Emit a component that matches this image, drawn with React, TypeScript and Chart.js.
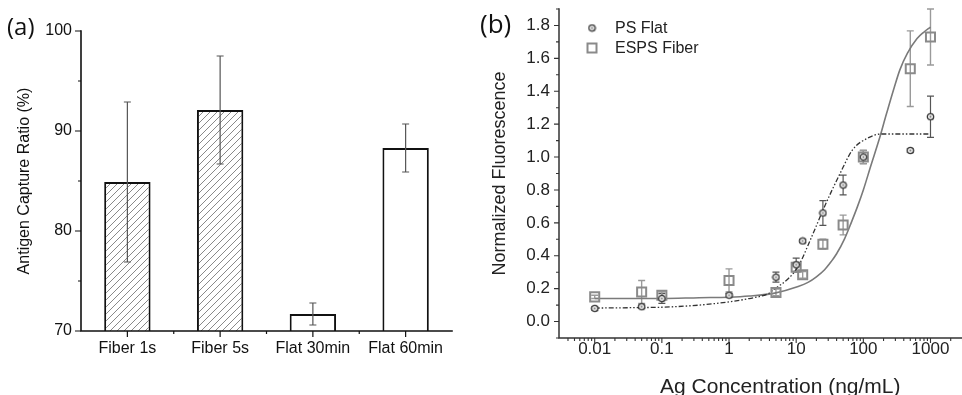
import React, { useEffect, useRef } from "react";
import { Chart, registerables } from "chart.js";

Chart.register(...registerables);

// ---------- Panel (a) data ----------
const barCategories = ["Fiber 1s", "Fiber 5s", "Flat 30min", "Flat 60min"];
const barValues = [84.9, 92.1, 71.7, 88.3];
const barErrors = [8.0, 5.4, 1.1, 2.4];
const barHatched = [true, true, false, false];
const barYMin = 70;
const barYMax = 100;
const barYStep = 5;

// ---------- Panel (b) data ----------
const concentrations = [0.01, 0.05, 0.1, 1, 5, 10, 12.5, 25, 50, 100, 500, 1000];
const psFlatValues = [0.08, 0.09, 0.14, 0.16, 0.27, 0.345, 0.49, 0.66, 0.83, 1.0, 1.04, 1.245];
const psFlatErrors = [0.01, 0.01, 0.03, 0.01, 0.03, 0.04, 0.01, 0.075, 0.06, 0.04, 0.01, 0.125];
const espsValues = [0.15, 0.18, 0.16, 0.25, 0.177, 0.33, 0.284, 0.47, 0.587, 1.0, 1.537, 1.73];
const espsErrors = [0.01, 0.07, 0.02, 0.07, 0.02, 0.03, 0.02, 0.03, 0.06, 0.04, 0.23, 0.17];

const psFitX = [0.01, 0.05, 0.1, 0.36, 1, 2, 3.85, 4.84, 7.6, 10.7, 16.8, 26.5, 45, 69.5, 116, 182, 300, 1000];
const psFitY = [0.082, 0.085, 0.087, 0.1, 0.12, 0.14, 0.17, 0.2, 0.26, 0.335, 0.51, 0.7, 0.9, 1.045, 1.115, 1.14, 1.14, 1.14];

const espsFitX = [0.01, 0.1, 0.36, 1, 2, 4.8, 10.7, 15, 20, 26.5, 33, 40, 52.5, 65, 82, 100, 130, 170, 220, 287, 350, 452, 631, 800, 1000];
const espsFitY = [0.14, 0.14, 0.145, 0.148, 0.155, 0.173, 0.213, 0.238, 0.272, 0.315, 0.363, 0.412, 0.503, 0.594, 0.7, 0.8, 0.95, 1.1, 1.26, 1.42, 1.53, 1.63, 1.72, 1.76, 1.79];

const logXMin = 0.00294;
const logXMax = 11450;
const fluorYMin = -0.1;
const fluorYMax = 1.9;
const fluorYStep = 0.1;

const FONT = '"Liberation Sans", Arial, sans-serif';

function makeHatch(): CanvasPattern | string {
  const c = document.createElement("canvas");
  c.width = 7;
  c.height = 7;
  const g = c.getContext("2d");
  if (!g) return "#ddd";
  g.fillStyle = "#ffffff";
  g.fillRect(0, 0, 7, 7);
  g.strokeStyle = "#7c7c7c";
  g.lineWidth = 0.9;
  g.beginPath();
  g.moveTo(-1, 8);
  g.lineTo(8, -1);
  g.moveTo(-1, 1);
  g.lineTo(1, -1);
  g.moveTo(6, 8);
  g.lineTo(8, 6);
  g.stroke();
  return g.createPattern(c, "repeat") || "#ddd";
}

function makeCircleMarker(): HTMLCanvasElement {
  const c = document.createElement("canvas");
  c.width = 9;
  c.height = 9;
  const g = c.getContext("2d")!;
  g.beginPath();
  g.arc(4.5, 4.5, 3.2, 0, Math.PI * 2);
  g.fillStyle = "#ececec";
  g.fill();
  g.lineWidth = 1.3;
  g.strokeStyle = "#3a3a3a";
  g.stroke();
  g.beginPath();
  g.arc(4.5, 4.5, 0.9, 0, Math.PI * 2);
  g.fillStyle = "#777";
  g.fill();
  return c;
}

const errorBarPlugin = {
  id: "errorBars",
  beforeDatasetsDraw(chart: any, _a: any, opts: any) {
    if (opts && opts.before) drawErrors(chart);
  },
  afterDatasetsDraw(chart: any, _a: any, opts: any) {
    if (!opts || !opts.before) drawErrors(chart);
  },
};

function drawErrors(chart: any) {
  const ctx = chart.ctx;
  const area = chart.chartArea;
  chart.data.datasets.forEach((ds: any, i: number) => {
    const errs = ds.errors;
    if (!errs) return;
    const meta = chart.getDatasetMeta(i);
    const yScale = chart.scales[meta.yAxisID];
    ctx.save();
    ctx.beginPath();
    ctx.rect(area.left, area.top - 2, area.right - area.left, area.bottom - area.top + 2);
    ctx.clip();
    ctx.strokeStyle = ds.errorColor || "#444";
    ctx.lineWidth = ds.errorWidth || 1;
    const cw = ds.errorCap || 3.5;
    meta.data.forEach((el: any, j: number) => {
      const raw = ds.data[j];
      const v = typeof raw === "number" ? raw : raw.y;
      const e = errs[j];
      const x = el.x;
      const yt = yScale.getPixelForValue(v + e);
      const yb = yScale.getPixelForValue(v - e);
      ctx.beginPath();
      ctx.moveTo(x, yt);
      ctx.lineTo(x, yb);
      ctx.moveTo(x - cw, yt);
      ctx.lineTo(x + cw, yt);
      ctx.moveTo(x - cw, yb);
      ctx.lineTo(x + cw, yb);
      ctx.stroke();
    });
    ctx.restore();
  });
}

const axisPlugin = {
  id: "axisDecor",
  afterDraw(chart: any, _a: any, opts: any) {
    const ctx = chart.ctx;
    const { left, right, top, bottom } = chart.chartArea;
    const major = opts.major || 6;
    const minor = opts.minor || 3;
    ctx.save();
    ctx.strokeStyle = opts.color || "#111";
    ctx.lineWidth = opts.lineWidth || 1.5;
    ctx.lineCap = "square";
    ctx.beginPath();
    ctx.moveTo(left, top);
    ctx.lineTo(left, bottom);
    ctx.lineTo(right, bottom);
    ctx.stroke();

    ctx.lineCap = "butt";
    ctx.lineWidth = opts.tickWidth || 1.2;
    ctx.beginPath();
    const xs = chart.scales.x;
    const ys = chart.scales.y;
    if (xs.type === "category") {
      const n = xs.ticks.length;
      for (let i = 0; i < n; i++) {
        const x = xs.getPixelForTick(i);
        ctx.moveTo(x, bottom);
        ctx.lineTo(x, bottom + major);
      }
      for (let i = 1; i < n; i++) {
        const x = (xs.getPixelForTick(i - 1) + xs.getPixelForTick(i)) / 2;
        ctx.moveTo(x, bottom);
        ctx.lineTo(x, bottom + minor);
      }
    } else {
      xs.ticks.forEach((t: any) => {
        const v = t.value;
        if (v < xs.min || v > xs.max) return;
        const e = Math.floor(Math.log10(v) + 1e-9);
        const sig = v / Math.pow(10, e);
        if (Math.abs(sig - Math.round(sig)) > 1e-6) return;
        const isMajor = Math.abs(Math.round(sig) - 1) < 1e-9;
        const x = xs.getPixelForValue(v);
        ctx.moveTo(x, bottom);
        ctx.lineTo(x, bottom + (isMajor ? major : minor));
      });
    }
    ys.ticks.forEach((t: any) => {
      const y = ys.getPixelForValue(t.value);
      const isMajor = t.label !== "" && t.label !== undefined;
      ctx.moveTo(left, y);
      ctx.lineTo(left - (isMajor ? major : minor), y);
    });
    ctx.stroke();
    ctx.restore();
  },
};

const legendPlugin = {
  id: "innerLegend",
  afterDraw(chart: any, _a: any, opts: any) {
    const ctx = chart.ctx;
    const { left, top } = chart.chartArea;
    const items = chart.data.datasets.filter((d: any) => d.inLegend);
    ctx.save();
    items.forEach((ds: any, i: number) => {
      const cx = left + 33;
      const cy = top + 19 + i * 20;
      if (ds.pointStyle instanceof HTMLCanvasElement) {
        ctx.drawImage(ds.pointStyle, cx - 4.5, cy - 4.5);
      } else {
        ctx.strokeStyle = ds.pointBorderColor;
        ctx.lineWidth = ds.pointBorderWidth;
        ctx.strokeRect(cx - 4.5, cy - 4.5, 9, 9);
      }
      ctx.fillStyle = opts.color || "#222";
      ctx.font = `16px ${FONT}`;
      ctx.textBaseline = "middle";
      ctx.textAlign = "left";
      ctx.fillText(ds.label, left + 56, cy + 1);
    });
    ctx.restore();
  },
};

export default function App() {
  const refA = useRef<HTMLCanvasElement>(null);
  const refB = useRef<HTMLCanvasElement>(null);

  useEffect(() => {
    if (!refA.current || !refB.current) return;
    const hatch = makeHatch();
    const circleMarker = makeCircleMarker();

    const chartA = new Chart(refA.current, {
      type: "bar",
      data: {
        labels: barCategories,
        datasets: [
          {
            data: barValues,
            backgroundColor: barHatched.map((h) => (h ? hatch : "#ffffff")) as any,
            borderColor: "#111",
            borderWidth: 2,
            borderSkipped: "start",
            barPercentage: 0.5,
            categoryPercentage: 1,
            errors: barErrors,
            errorColor: "#555",
            errorWidth: 1.2,
            errorCap: 3.5,
          } as any,
        ],
      },
      options: {
        responsive: false,
        animation: false,
        events: [],
        layout: { padding: { top: 31, right: 28, bottom: 0, left: 0 } },
        plugins: {
          legend: { display: false },
          tooltip: { enabled: false },
          axisDecor: { color: "#111", lineWidth: 1.6, tickWidth: 1.2, major: 6, minor: 3 },
          errorBars: { before: false },
        } as any,
        scales: {
          x: {
            type: "category",
            offset: true,
            grid: { display: false, drawTicks: false, tickLength: 0 },
            border: { display: false },
            ticks: {
              color: "#111",
              font: { family: FONT, size: 16 },
              padding: 8,
              maxRotation: 0,
              autoSkip: false,
            },
            afterFit: (s: any) => {
              s.height = 64;
              s.paddingLeft = 0;
              s.paddingRight = 0;
            },
          },
          y: {
            min: barYMin,
            max: barYMax,
            grid: { display: false, drawTicks: false, tickLength: 0 },
            border: { display: false },
            ticks: {
              stepSize: barYStep,
              autoSkip: false,
              color: "#111",
              font: { family: FONT, size: 16 },
              padding: 9,
              callback: (v: any) => (Number(v) % 10 === 0 ? String(v) : ""),
            },
            title: {
              display: true,
              text: "Antigen Capture Ratio (%)",
              color: "#111",
              font: { family: FONT, size: 16 },
              padding: { top: 15, bottom: 0 },
            },
            afterFit: (s: any) => {
              s.width = 81;
              s.paddingTop = 0;
              s.paddingBottom = 0;
            },
          },
        } as any,
      },
      plugins: [errorBarPlugin, axisPlugin],
    });

    const chartB = new Chart(refB.current, {
      type: "scatter",
      data: {
        datasets: [
          {
            label: "PS Flat",
            data: concentrations.map((c, i) => ({ x: c, y: psFlatValues[i] })),
            pointStyle: circleMarker,
            pointRadius: 4.5,
            showLine: false,
            errors: psFlatErrors,
            errorColor: "#555",
            errorWidth: 1.2,
            errorCap: 3.5,
            inLegend: true,
          } as any,
          {
            label: "ESPS Fiber",
            data: concentrations.map((c, i) => ({ x: c, y: espsValues[i] })),
            pointStyle: "rect",
            pointRadius: 6.4,
            pointBackgroundColor: "rgba(255,255,255,0)",
            pointBorderColor: "#8a8a8a",
            pointBorderWidth: 2,
            showLine: false,
            errors: espsErrors,
            errorColor: "#9a9a9a",
            errorWidth: 1.4,
            errorCap: 3.5,
            inLegend: true,
          } as any,
          {
            label: "PS Flat fit",
            data: psFitX.map((x, i) => ({ x, y: psFitY[i] })),
            showLine: true,
            borderColor: "#333",
            borderWidth: 1.3,
            borderDash: [5, 2, 1.5, 2, 1.5, 2],
            pointRadius: 0,
            cubicInterpolationMode: "monotone",
            fill: false,
          } as any,
          {
            label: "ESPS Fiber fit",
            data: espsFitX.map((x, i) => ({ x, y: espsFitY[i] })),
            showLine: true,
            borderColor: "#7a7a7a",
            borderWidth: 1.6,
            pointRadius: 0,
            cubicInterpolationMode: "monotone",
            fill: false,
          } as any,
        ],
      },
      options: {
        responsive: false,
        animation: false,
        events: [],
        layout: { padding: { top: 9, right: 0, bottom: 0, left: 0 } },
        plugins: {
          legend: { display: false },
          tooltip: { enabled: false },
          axisDecor: { color: "#333", lineWidth: 1.5, tickWidth: 1.1, major: 5, minor: 3 },
          errorBars: { before: true },
          innerLegend: { color: "#222" },
        } as any,
        scales: {
          x: {
            type: "logarithmic",
            min: logXMin,
            max: logXMax,
            grid: { display: false, drawTicks: false, tickLength: 0 },
            border: { display: false },
            ticks: {
              color: "#222",
              font: { family: FONT, size: 17 },
              padding: 1,
              maxRotation: 0,
              autoSkip: false,
              callback: (v: any) => {
                const n = Number(v);
                const l = Math.log10(n);
                const e = Math.round(l);
                if (Math.abs(l - e) > 1e-6) return "";
                return e >= 0 ? String(Math.pow(10, e)) : Math.pow(10, e).toFixed(-e);
              },
            },
            title: {
              display: true,
              text: "Ag Concentration (ng/mL)",
              color: "#222",
              font: { family: FONT, size: 21, lineHeight: 0.76 },
              padding: { top: 0, bottom: 0 },
            },
            afterFit: (s: any) => {
              s.height = 57;
              s.paddingLeft = 0;
              s.paddingRight = 0;
            },
          },
          y: {
            min: fluorYMin,
            max: fluorYMax,
            grid: { display: false, drawTicks: false, tickLength: 0 },
            border: { display: false },
            ticks: {
              stepSize: fluorYStep,
              autoSkip: false,
              color: "#222",
              font: { family: FONT, size: 17 },
              padding: 9,
              callback: (v: any) => {
                const k = Math.round(Number(v) * 10);
                return k % 2 === 0 && k >= 0 && k <= 18 ? (k / 10).toFixed(1) : "";
              },
            },
            title: {
              display: true,
              text: "Normalized Fluorescence",
              color: "#222",
              font: { family: FONT, size: 18 },
              padding: { top: 9, bottom: 0 },
            },
            afterFit: (s: any) => {
              s.width = 79;
              s.paddingTop = 0;
              s.paddingBottom = 0;
            },
          },
        } as any,
      },
      plugins: [errorBarPlugin, axisPlugin, legendPlugin],
    });

    return () => {
      chartA.destroy();
      chartB.destroy();
    };
  }, []);

  return (
    <div
      style={{
        position: "fixed",
        left: 0,
        top: 0,
        width: 962,
        height: 395,
        overflow: "hidden",
        background: "#fff",
      }}
    >
      <canvas
        ref={refA}
        width={480}
        height={395}
        style={{ position: "absolute", left: 0, top: 0, width: 480, height: 395 }}
      />
      <canvas
        ref={refB}
        width={530}
        height={395}
        style={{ position: "absolute", left: 480, top: 0, width: 530, height: 395 }}
      />
      <div
        style={{
          position: "absolute",
          left: 7,
          top: 11,
          fontFamily: '"Open Sans", sans-serif',
          fontSize: 24,
          lineHeight: "30px",
          color: "#111",
        }}
      >
        (a)
      </div>
      <div
        style={{
          position: "absolute",
          left: 480,
          top: 6,
          fontFamily: '"Open Sans", sans-serif',
          fontSize: 26,
          lineHeight: "34px",
          color: "#111",
        }}
      >
        (b)
      </div>
    </div>
  );
}
